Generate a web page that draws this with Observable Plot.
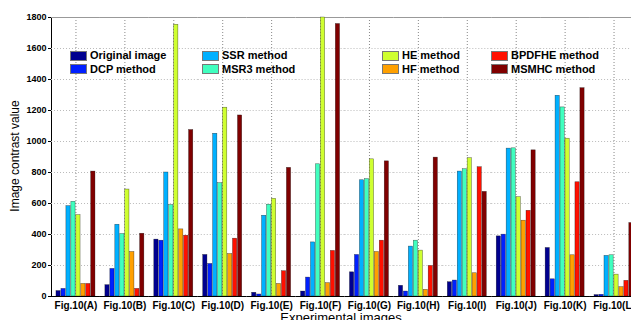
<!DOCTYPE html>
<html><head><meta charset="utf-8">
<script src="https://cdn.jsdelivr.net/npm/d3@7"></script>
<script src="https://cdn.jsdelivr.net/npm/@observablehq/plot@0.6"></script>
<style>
html,body{margin:0;padding:0;background:#fff;overflow:hidden;}
#wrap{position:relative;width:631px;height:320px;overflow:hidden;}
#wrap svg{max-width:none !important;}
.leg{position:absolute;font:bold 11px "Liberation Sans",Arial,sans-serif;color:#000;display:flex;align-items:center;white-space:nowrap;line-height:1;}
.leg .sw{width:15px;height:8px;border:1px solid #777;margin-right:3px;flex:none;}
</style></head><body><div id="wrap"></div>
<script>
const figures = ["Fig.10(A)","Fig.10(B)","Fig.10(C)","Fig.10(D)","Fig.10(E)","Fig.10(F)","Fig.10(G)","Fig.10(H)","Fig.10(I)","Fig.10(J)","Fig.10(K)","Fig.10(L)"];
const methods = ["Original image","DCP method","SSR method","MSR3 method","HE method","HF method","BPDFHE method","MSMHC method"];
const colors = ["#00008F","#0020FF","#00B0FF","#40FFBF","#CFFF30","#FFA000","#FF1000","#800000"];
const original = [35, 73, 367, 268, 24, 32, 156, 69, 92, 388, 313, 9];
const dcp      = [49, 178, 360, 210, 13, 122, 268, 32, 103, 399, 111, 11];
const ssr      = [583, 463, 800, 1050, 521, 349, 750, 322, 806, 954, 1295, 262];
const msr3     = [611, 403, 590, 731, 592, 853, 757, 360, 821, 956, 1220, 266];
const he       = [525, 690, 1753, 1218, 630, 1800, 885, 296, 892, 641, 1018, 141];
const hf       = [81, 287, 433, 274, 81, 86, 287, 43, 150, 489, 266, 60];
const bpdfhe   = [81, 49, 392, 373, 163, 294, 360, 197, 834, 553, 737, 101];
const msmhc    = [806, 405, 1074, 1168, 830, 1758, 872, 896, 675, 943, 1344, 474];
const yTicks = [0, 200, 400, 600, 800, 1000, 1200, 1400, 1600, 1800];
const gridTicks = [200, 400, 600, 800, 1000, 1200, 1400, 1600];
const yMax = 1800;
const xTitle = "Experimental images";
const yTitle = "Image contrast value";

const series = [original, dcp, ssr, msr3, he, hf, bpdfhe, msmhc];
const data = [];
figures.forEach((f, i) => methods.forEach((m, j) => data.push({fig: f, method: m, value: series[j][i]})));

const W = 660, ML = 51, MR = 22;
const padIn = 0.15, padOut = 1;
const step = ((W - ML - MR) / figures.length) / (methods.length - padIn + 2 * padOut);

const chart = Plot.plot({
  width: W, height: 330,
  marginLeft: ML, marginRight: MR, marginTop: 17, marginBottom: 34,
  style: {fontFamily: "'Liberation Sans', Arial, sans-serif", fontSize: "10px", fontWeight: "bold", background: "white", color: "#000", maxWidth: "none"},
  fx: {domain: figures, padding: 0, round: false, label: null, axis: "bottom", tickSize: 0, tickPadding: 5},
  x: {domain: methods, paddingInner: padIn, paddingOuter: padOut, round: false, axis: null},
  y: {domain: [0, yMax], ticks: yTicks, tickFormat: d3.format("d"), tickSize: 3, tickPadding: 2, label: null, line: true},
  color: {domain: methods, range: colors},
  marks: [
    Plot.ruleY(gridTicks, {stroke: "#bbb", strokeDasharray: "1,2"}),
    Plot.ruleX([methods[4]], {x: d => d, dx: -step / 2, stroke: "#888", strokeWidth: 1, strokeDasharray: "1,2"}),
    Plot.ruleY([yMax], {stroke: "#999"}),
    Plot.barY(data, {fx: "fig", x: "method", y: "value", fill: "method", stroke: "#000", strokeWidth: 0.5, strokeOpacity: 0.6}),
    Plot.ruleY([0], {stroke: "#000"})
  ]
});
const wrap = document.getElementById("wrap");
wrap.appendChild(chart);

const svg = d3.select(chart.tagName.toLowerCase() === "svg" ? chart : chart.querySelector("svg"));
svg.selectAll('[aria-label^="y-axis"] text').style("font-size", "9px");
svg.append("text").attr("transform", "translate(15,156) rotate(-90)")
  .attr("text-anchor", "middle").attr("dy", "0.35em")
  .style("font-size", "12px").style("font-weight", "normal").text(yTitle);
svg.append("text").attr("x", 341).attr("y", 322).attr("text-anchor", "middle")
  .style("font-size", "13px").style("font-weight", "normal").text(xTitle);

// legend
const colLeft = [70, 202, 382, 491];
const rowTop = [50, 63.5];
methods.forEach((m, j) => {
  const d = document.createElement("div");
  d.className = "leg";
  d.style.left = colLeft[Math.floor(j / 2)] + "px";
  d.style.top = rowTop[j % 2] + "px";
  const sw = document.createElement("span");
  sw.className = "sw";
  sw.style.background = colors[j];
  d.appendChild(sw);
  d.appendChild(document.createTextNode(m));
  wrap.appendChild(d);
});
</script></body></html>
